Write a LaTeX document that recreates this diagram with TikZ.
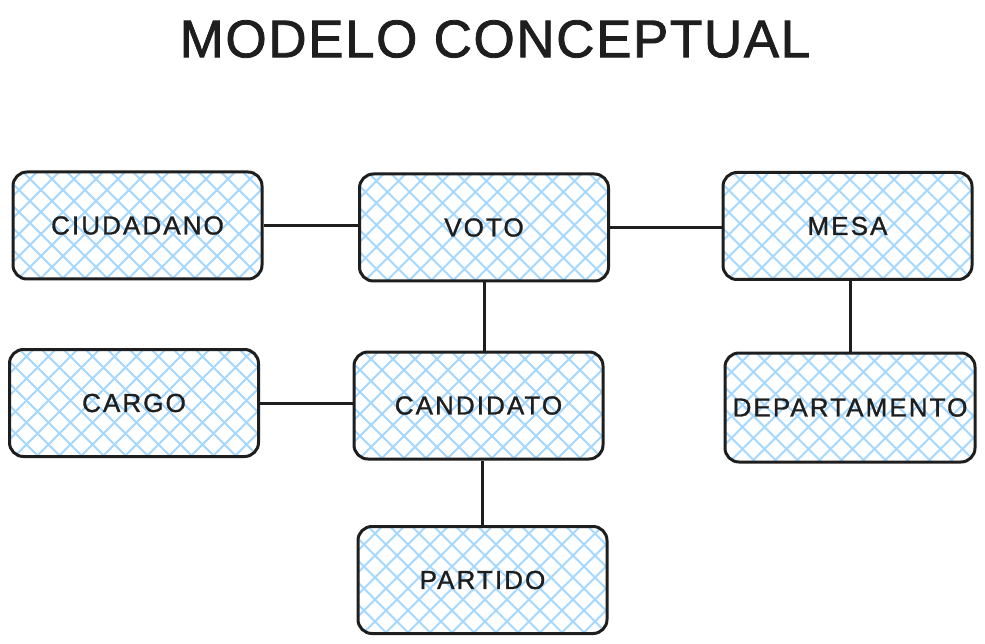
\documentclass[tikz,border=0pt]{standalone}
\usepackage{fontspec}
\setmainfont{Liberation Sans}
\newfontfamily\boxfont[LetterSpace=8,FakeBold=1.2]{Liberation Sans}
\newfontfamily\titlefont[LetterSpace=3,FakeBold=1.5]{Liberation Sans}
\definecolor{ink}{HTML}{1E1E1E}
\definecolor{hatchblue}{HTML}{A5D8FF}
\begin{document}
\begin{tikzpicture}[x=1pt,y=-1pt,
  hatchline/.style={draw=hatchblue,line width=2pt},
  entity/.style={draw=ink, line width=3pt, rounded corners=14pt,
    minimum width=249pt, minimum height=107pt, inner sep=0pt,
    font=\boxfont\fontsize{26}{30}\selectfont, text=ink,
    path picture={
      \foreach \k in {-11,...,11}{
        \draw[hatchline] ([shift={(\k*22pt-180pt,-180pt)}]path picture bounding box.center) -- ++(360pt,360pt);
        \draw[hatchline] ([shift={(\k*22pt-180pt+5pt,180pt)}]path picture bounding box.center) -- ++(360pt,-360pt);
      }
    }},
  link/.style={draw=ink,line width=3pt}]
\useasboundingbox[fill=white] (0,0) rectangle (985,644);

\node[font=\titlefont\fontsize{53}{60}\selectfont, text=ink] (title) at (495,39) {MODELO CONCEPTUAL};

\node[entity] (ciud) at (137.5,225.5) {CIUDADANO};
\node[entity] (voto) at (484,227.5) {VOTO};
\node[entity] (mesa) at (847.5,226) {MESA};
\node[entity] (cargo) at (134,403) {CARGO};
\node[entity] (cand) at (478.5,405.5) {CANDIDATO};
\node[entity, minimum width=250pt, minimum height=109pt] (dep) at (850,407.5) {DEPARTAMENTO};
\node[entity] (part) at (482.5,580) {PARTIDO};

\draw[link] (ciud.east) -- (ciud.east -| voto.west);
\draw[link] (voto.east) -- (voto.east -| mesa.west);
\draw[link] (voto.south) -- (voto.south |- cand.north);
\draw[link] (dep.north) -- (dep.north |- mesa.south);
\draw[link] (cargo.east) -- (cargo.east -| cand.west);
\draw[link] (part.north) -- (part.north |- cand.south);
\end{tikzpicture}
\end{document}
